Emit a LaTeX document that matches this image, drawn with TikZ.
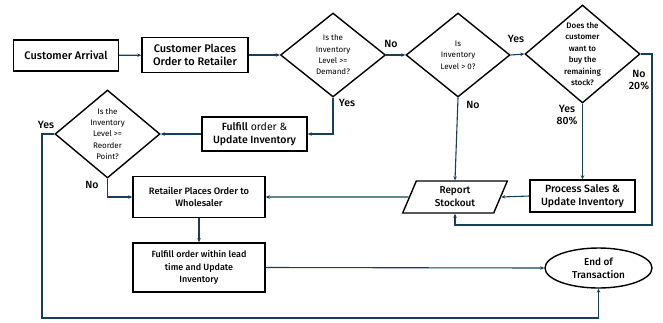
\documentclass[tikz,border=0pt]{standalone}
\usepackage{fontspec}
\setmainfont{Fira Sans}[BoldFont={Fira Sans Medium}]
\usetikzlibrary{shapes.geometric,arrows.meta}
\definecolor{linkblue}{HTML}{173F58}
\tikzset{
  box/.style={draw=black, line width=1.4pt, fill=white, align=center, inner sep=2pt},
  dia/.style={draw=black, line width=1.4pt, diamond, inner sep=0pt},
  diatext/.style={align=center, font=\fontsize{8}{11.3}\selectfont},
  link/.style={draw=linkblue, line width=1.1pt, -{Stealth[length=4pt,width=3.5pt]}},
  tag/.style={font=\fontsize{10.5}{12}\selectfont\bfseries, align=center, inner sep=0pt}
}
\begin{document}
\begin{tikzpicture}[x=1pt,y=-1pt]
\useasboundingbox (0,0) rectangle (663,322);

% process boxes
\node[box, minimum width=105pt, minimum height=31pt, font=\fontsize{11}{12}\selectfont\bfseries] (ca) at (66,55.5) {Customer Arrival};
\node[box, minimum width=106pt, minimum height=35pt, font=\fontsize{11}{13}\selectfont\bfseries] (cp) at (195,55) {Customer Places\\Order to Retailer};
\node[box, minimum width=105pt, minimum height=34pt, font=\fontsize{10.5}{13}\selectfont] (ful) at (254.5,134) {\textbf{Fulfill} order \&\\\textbf{Update Inventory}};
\node[box, minimum width=132pt, minimum height=41pt, font=\fontsize{9.3}{12.5}\selectfont\bfseries] (ret) at (199,197) {Retailer Places Order to\\Wholesaler};
\node[box, minimum width=132pt, minimum height=49pt, font=\fontsize{9}{12.5}\selectfont\bfseries] (flt) at (199,267.5) {Fulfill order within lead\\time and Update\\Inventory};
\node[box, minimum width=105pt, minimum height=32pt, font=\fontsize{10.5}{13}\selectfont\bfseries] (ps) at (582.5,196) {Process Sales \&\\Update Inventory};
\node[box, trapezium, trapezium left angle=72, trapezium right angle=108, trapezium stretches=true, minimum width=105pt, minimum height=32pt, font=\fontsize{10}{13}\selectfont\bfseries] (rs) at (455,197) {Report\\Stockout};
\node[box, ellipse, minimum width=107pt, minimum height=40pt, font=\fontsize{10}{13}\selectfont\bfseries] (end) at (598.5,268) {End of\\Transaction};

% decisions
\node[dia, minimum width=105pt, minimum height=84pt] (d1) at (333,55) {};
\node[diatext] (d1t) at (d1) {Is the\\Inventory\\Level >=\\Demand?};
\node[dia, minimum width=104pt, minimum height=84pt] (d2) at (458,55) {};
\node[diatext] (d2t) at (d2) {Is\\Inventory\\Level > 0?};
\node[dia, minimum width=115pt, minimum height=98pt] (d3) at (582.5,54) {};
\node[diatext, font=\fontsize{8}{11.5}\selectfont\bfseries] (d3t) at (d3) {Does the\\customer\\want to\\buy the\\remaining\\stock?};
\node[dia, minimum width=105pt, minimum height=88pt] (d4) at (107.5,134) {};
\node[diatext] (d4t) at (d4) {Is the\\Inventory\\Level >=\\Reorder\\Point?};

% turning points
\coordinate (yb) at (42,318);
\coordinate (nr) at (652,225);

% connectors
\draw[link] (ca) -- (cp);
\draw[link] (cp) -- (d1.west);
\draw[link] (d1.east) -- (d2.west);
\draw[link] (d2.east) -- (d3.west);
\draw[link] (d1.south) |- (ful.east);
\draw[link] (ful.west) -- (d4.east);
\draw[link] (d4.south) |- (ret.west);
\draw[link] (d4.west) -| (yb) -| (end.south);
\draw[link] (d2.south) -- (rs.north);
\draw[link] (d3.south) -- (ps.north);
\draw[link] (d3.east) -| (nr) -| (rs.south);
\draw[link] (ps.west) -- (rs.east);
\draw[link] (rs.west) -- (ret.east);
\draw[link] (ret.south) -- (flt.north);
\draw[link] (flt.east) -- (end.west);

% branch labels
\node[tag] (l1) at (391,44) {No};
\node[tag] (l2) at (516,39) {Yes};
\node[tag] (l3) at (347,103) {Yes};
\node[tag] (l4) at (473,105) {No};
\node[tag] (l5) at (567,115) {Yes\\80\%};
\node[tag] (l6) at (639,80) {No\\20\%};
\node[tag] (l7) at (46,125) {Yes};
\node[tag] (l8) at (92,185) {No};
\end{tikzpicture}
\end{document}
